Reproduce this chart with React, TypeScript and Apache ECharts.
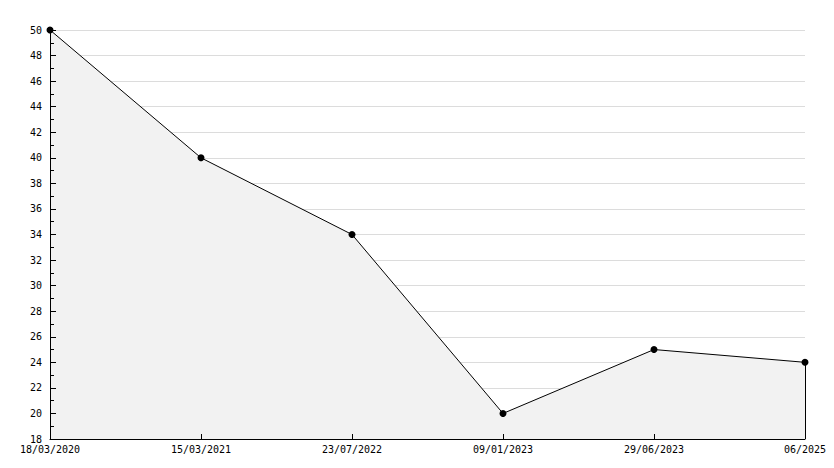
import React, { useEffect, useRef } from "react";
import * as echarts from "echarts";

const categories = ["18/03/2020", "15/03/2021", "23/07/2022", "09/01/2023", "29/06/2023", "06/2025"];
const values = [50, 40, 34, 20, 25, 24];
const yMin = 18;
const yMax = 50;
const yInterval = 2;

export default function App() {
  const ref = useRef<HTMLDivElement>(null);
  useEffect(() => {
    if (!ref.current) return;
    const chart = echarts.init(ref.current, null, { renderer: "svg" });
    const font = "DejaVu Sans Mono";
    chart.setOption({
      animation: false,
      backgroundColor: "#ffffff",
      grid: { left: 50, right: 29, top: 30, bottom: 29, containLabel: false },
      xAxis: {
        type: "category",
        data: categories,
        boundaryGap: false,
        z: 5,
        axisLine: { show: true, lineStyle: { color: "#000", width: 1 } },
        axisTick: { show: true, inside: true, length: 5, alignWithLabel: true, lineStyle: { color: "#000", width: 1 } },
        axisLabel: { color: "#000", fontFamily: font, fontSize: 10, margin: 5, interval: 0 },
        splitLine: { show: false },
      },
      yAxis: [
        {
          type: "value",
          min: yMin,
          max: yMax,
          interval: yInterval,
          z: 0,
          axisLine: { show: false },
          axisTick: { show: false },
          axisLabel: { show: false },
          splitLine: { show: true, lineStyle: { color: "#dcdcdc", width: 1 } },
        },
        {
          type: "value",
          position: "left",
          min: yMin,
          max: yMax,
          interval: yInterval,
          z: 5,
          axisLine: { show: true, lineStyle: { color: "#000", width: 1 } },
          axisTick: { show: true, inside: true, length: 6, lineStyle: { color: "#000", width: 1 } },
          minorTick: { show: true, splitNumber: 2, length: 4, lineStyle: { color: "#000", width: 1 } },
          axisLabel: { color: "#000", fontFamily: font, fontSize: 10, margin: 8 },
          splitLine: { show: false },
        },
      ],
      series: [
        {
          type: "line",
          data: values,
          yAxisIndex: 0,
          symbol: "circle",
          symbolSize: 7,
          itemStyle: { color: "#000" },
          lineStyle: { color: "#000", width: 1 },
          areaStyle: { color: "#f2f2f2", opacity: 1 },
          z: 2,
          markLine: {
            silent: true,
            symbol: "none",
            label: { show: false },
            lineStyle: { color: "#000", width: 1, type: "solid" },
            data: [
              [
                { coord: [categories[categories.length - 1], yMin] },
                { coord: [categories[categories.length - 1], values[values.length - 1]] },
              ],
            ],
          },
        },
      ],
    });
    return () => chart.dispose();
  }, []);
  return <div ref={ref} style={{ width: 834, height: 468, position: "absolute", left: 0, top: 0 }} />;
}
